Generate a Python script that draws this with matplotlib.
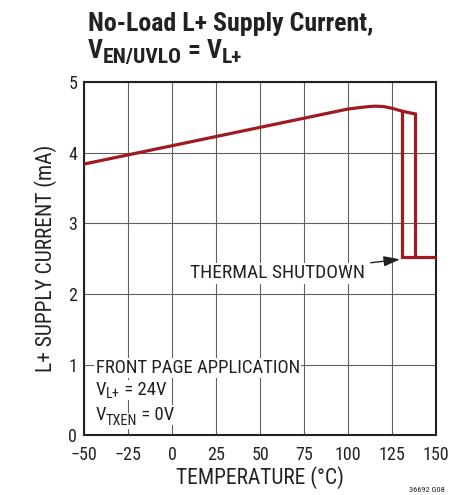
import matplotlib
matplotlib.use("Agg")
import matplotlib.pyplot as plt
from matplotlib.transforms import IdentityTransform

plt.rcParams['font.family'] = ['Roboto Condensed', 'DejaVu Sans']

# heating curve (degC, mA)
temp = [-50, 0, 50, 100, 110, 115, 120, 125, 130.5, 138]
curr = [3.84, 4.10, 4.36, 4.62, 4.65, 4.66, 4.655, 4.63, 4.59, 4.55]
# shutdown / recovery loop
loop_t = [138, 138, 150]
loop_i = [4.55, 2.52, 2.52]
hyst_t = [130.5, 130.5, 138]
hyst_i = [4.59, 2.52, 2.52]

xticks = [-50, -25, 0, 25, 50, 75, 100, 125, 150]
xlabels = ['\u221250', '\u221225', '0', '25', '50', '75', '100', '125', '150']
yticks = [0, 1, 2, 3, 4, 5]

red = '#9e1b22'
ink = '#222222'
fig = plt.figure(figsize=(4.52, 4.95), dpi=100)
ax = fig.add_axes([0.186, 0.121, 0.779, 0.713])
rend = fig.canvas.get_renderer()


def rich(x, y, pieces, size, weight='normal', box=None):
    # pieces: (text, size scale, baseline shift in px); x, y in pixels
    for s, k, dy in pieces:
        t = fig.text(x, y + dy, s, transform=IdentityTransform(),
                     fontsize=size * k, fontweight=weight, color=ink,
                     va='baseline', bbox=box, zorder=5)
        x = t.get_window_extent(rend).x1


ax.plot(temp, curr, color=red, lw=2.3, solid_joinstyle='miter', zorder=3)
ax.plot(loop_t, loop_i, color=red, lw=2.3, solid_joinstyle='miter', zorder=3)
ax.plot(hyst_t, hyst_i, color=red, lw=2.3, solid_joinstyle='miter', zorder=3)

ax.set_xlim(-50, 150)
ax.set_ylim(0, 5)
ax.set_xticks(xticks)
ax.set_xticklabels(xlabels)
ax.set_yticks(yticks)
ax.tick_params(length=0, labelsize=13, pad=5, colors=ink)
ax.tick_params(axis='x', pad=8)
ax.grid(True, color='#606060', lw=0.8)
ax.set_axisbelow(True)
for s in ax.spines.values():
    s.set_linewidth(1.5)
    s.set_color(ink)

ax.set_xlabel('TEMPERATURE (\u00b0C)', fontsize=15.5, color=ink, labelpad=1)
ax.set_ylabel('L+ SUPPLY CURRENT (mA)', fontsize=15.5, color=ink, labelpad=8)

ax.annotate('THERMAL SHUTDOWN', xy=(129.5, 2.49), xytext=(109.7, 2.29),
            ha='right', va='center', fontsize=14, color=ink,
            bbox=dict(facecolor='white', edgecolor='none', pad=1),
            arrowprops=dict(arrowstyle='-|>,head_length=0.7,head_width=0.22',
                            color=ink, lw=1, shrinkA=3, shrinkB=0))

box = dict(facecolor='white', edgecolor='none', pad=1)
bx, _ = ax.transData.transform((-43.5, 0))
rich(bx, 122, [('FRONT PAGE APPLICATION', 1, 0)], 13.5, box=box)
rich(bx, 100, [('V', 1, 0), ('L+', 0.77, -3.5), (' = 24V', 1, 0)], 13.5, box=box)
rich(bx, 75, [('V', 1, 0), ('TXEN', 0.77, -5), (' = 0V', 1, 0)], 13.5, box=box)

fig.text(0.195, 0.937, 'No-Load L+ Supply Current,', fontsize=18.6,
         fontweight='bold', color=ink, va='baseline')
rich(88, 437, [('V', 1, 0), ('EN/UVLO', 0.83, -5), (' = V', 1, 0),
               ('L+', 0.83, -5)], 18.6, weight='bold')
fig.text(0.985, 0.005, '36692 G08', fontsize=6, color=ink, ha='right',
         va='bottom')

fig.savefig('out.png', dpi=100)
